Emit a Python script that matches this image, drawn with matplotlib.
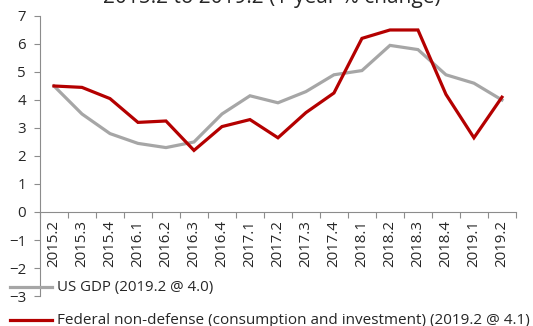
import matplotlib
matplotlib.use("Agg")
from matplotlib import pyplot as plt
from matplotlib.lines import Line2D
import numpy as np

plt.rcParams['font.family'] = ['Open Sans', 'DejaVu Sans']

quarters = ["2015.2", "2015.3", "2015.4", "2016.1", "2016.2", "2016.3", "2016.4",
            "2017.1", "2017.2", "2017.3", "2017.4", "2018.1", "2018.2", "2018.3",
            "2018.4", "2019.1", "2019.2"]
us_gdp = [4.5, 3.5, 2.8, 2.45, 2.3, 2.5, 3.5, 4.15, 3.9, 4.3, 4.9, 5.05, 5.95,
          5.8, 4.9, 4.6, 4.0]
fed_nondef = [4.5, 4.45, 4.05, 3.2, 3.25, 2.2, 3.05, 3.3, 2.65, 3.55, 4.25, 6.2,
              6.5, 6.5, 4.2, 2.65, 4.1]

gray = "#a6a6a6"
red = "#b40000"
axis_col = "#8c8c8c"
text_col = "#262626"

fig = plt.figure(figsize=(5.33, 3.26), dpi=100)
ax = fig.add_axes([0.075, 0.092, 0.893, 0.859])

x = np.arange(len(quarters))
ax.plot(x, us_gdp, color=gray, lw=2.3, solid_joinstyle='miter')
ax.plot(x, fed_nondef, color=red, lw=2.3, solid_joinstyle='miter')

ax.set_xlim(-0.5, len(quarters) - 0.5)
ax.set_ylim(-3, 7)
ax.set_yticks(range(-3, 8))
ax.tick_params(axis='y', colors=axis_col, labelcolor=text_col, labelsize=10.8,
               length=4, width=0.8, pad=6)

# x axis sits on zero, ticks between quarters
ax.spines['bottom'].set_position(('data', 0))
ax.set_xticks(x)
ax.set_xticklabels(quarters, rotation=90, fontsize=10.8, color=text_col)
ax.set_xticks(np.arange(-0.5, len(quarters)), minor=True)
ax.tick_params(axis='x', which='major', length=0, pad=6)
ax.tick_params(axis='x', which='minor', length=4, width=0.8, colors=axis_col)

for side in ['top', 'right']:
    ax.spines[side].set_visible(False)
for side in ['left', 'bottom']:
    ax.spines[side].set_color(axis_col)
    ax.spines[side].set_linewidth(0.8)

fig.text(0.51, 0.992, "2015.2 to 2019.2 (1-year % change)", ha='center',
         va='baseline', fontsize=15, color=text_col)

# legend drawn below the plot
fig.add_artist(Line2D([10 / 533, 52 / 533], [1 - 287 / 326] * 2, color=gray, lw=2.3))
fig.text(57 / 533, 1 - 287 / 326, "US GDP (2019.2 @ 4.0)", va='center',
         fontsize=10.8, color=text_col)
fig.add_artist(Line2D([10 / 533, 52 / 533], [1 - 320 / 326] * 2, color=red, lw=2.3))
fig.text(57 / 533, 1 - 320 / 326,
         "Federal non-defense (consumption and investment) (2019.2 @ 4.1)",
         va='center', fontsize=11, color=text_col)

plt.savefig("out.png", dpi=100)
